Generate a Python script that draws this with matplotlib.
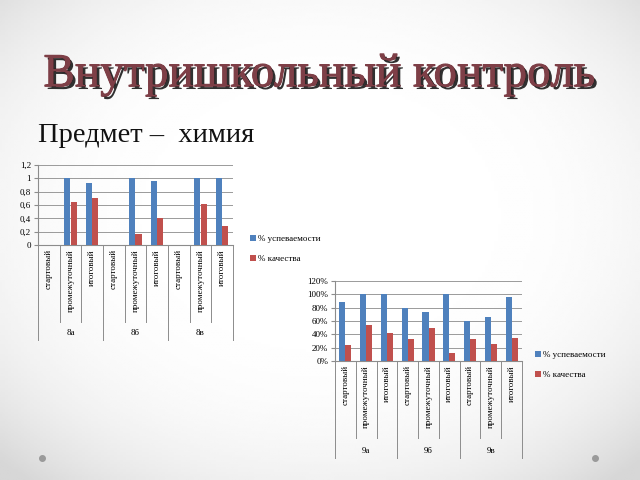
import numpy as np
import matplotlib.pyplot as plt
from matplotlib import patheffects

plt.rcParams['font.family'] = ['Liberation Serif', 'DejaVu Serif']

stages = ['стартовый', 'промежуточный', 'итоговый']

# chart 1: 8th grade (shares 0..1)
groups8 = ['8а', '8б', '8в']
usp8 = [0, 1.0, 0.93, 0, 1.0, 0.96, 0, 1.0, 1.0]
kach8 = [0, 0.65, 0.71, 0, 0.16, 0.40, 0, 0.62, 0.28]

# chart 2: 9th grade (percent)
groups9 = ['9а', '9б', '9в']
usp9 = [89, 100, 100, 80, 73, 100, 60, 66, 96]
kach9 = [24, 54, 42, 33, 50, 12, 33, 25, 34]

legend_labels = ['% успеваемости', '% качества']
title = 'Внутришкольный контроль'
subtitle = 'Предмет –  химия'

BLUE = '#4F81BD'
RED = '#C0504D'
W, H = 640, 480

fig = plt.figure(figsize=(6.4, 4.8), dpi=100)

# slide background with soft grey vignette
bg = fig.add_axes([0, 0, 1, 1])
yy, xx = np.mgrid[0:1:200j, 0:1:200j]
r = np.sqrt(((xx - 0.5) / 0.72) ** 2 + ((yy - 0.45) / 0.72) ** 2)
bg.imshow(1 - 0.16 * np.clip(r, 0, 1) ** 4, cmap='gray', vmin=0, vmax=1,
          extent=[0, 1, 0, 1], aspect='auto')
bg.set_xlim(0, 1)
bg.set_ylim(0, 1)
bg.axis('off')

# title with shadow
bg.text(0.5, 1 - 75 / H, title, ha='center', va='center', fontsize=34,
        color='#7E3F47',
        path_effects=[patheffects.withStroke(linewidth=0.8, foreground='#7E3F47'),
                      patheffects.withSimplePatchShadow(offset=(2, -2), shadow_rgbFace='#1a1a1a', alpha=0.9),
                      patheffects.Normal()])
bg.text(38 / W, 1 - 135 / H, subtitle, ha='left', va='center', fontsize=20.5, color='#111111')

# bottom dots
bg.plot([42 / W, 595 / W], [1 - 458 / H, 1 - 458 / H], 'o', color='#9a9a9a', ms=4)


def draw_chart(rect, usp, kach, groups, ylim, yticks, yfmt, inner_y, outer_y, grp_y, leg_xy):
    ax = fig.add_axes(rect)
    ax.patch.set_alpha(0)
    x = np.arange(len(usp))
    bw = 0.29
    b1 = ax.bar(x - bw / 2, usp, bw, color=BLUE, zorder=3)
    b2 = ax.bar(x + bw / 2, kach, bw, color=RED, zorder=3)
    ax.set_xlim(-0.5, len(usp) - 0.5)
    ax.set_ylim(*ylim)
    ax.set_yticks(yticks)
    ax.set_yticklabels([yfmt(v) for v in yticks], fontsize=6.5)
    ax.yaxis.grid(True, color='#9a9a9a', lw=0.7, zorder=0)
    for s in ['top', 'right']:
        ax.spines[s].set_visible(False)
    ax.spines['left'].set_color('#8c8c8c')
    ax.spines['bottom'].set_color('#8c8c8c')
    ax.tick_params(axis='y', length=3, color='#8c8c8c', pad=2)
    ax.set_xticks(x)
    ax.set_xticklabels(stages * len(groups), rotation=90, fontsize=6.5, va='top')
    ax.tick_params(axis='x', length=0, pad=3)
    tr = ax.get_xaxis_transform()
    n = len(stages)
    for i in range(len(usp) + 1):
        edge = i - 0.5
        low = outer_y if i % n == 0 else inner_y
        ax.plot([edge, edge], [0, low], color='#8c8c8c', lw=0.7, transform=tr, clip_on=False)
    for g, name in enumerate(groups):
        ax.text(g * n + (n - 1) / 2, grp_y, name, transform=tr, ha='center', va='center', fontsize=6.5)
    fig.legend([b1, b2], legend_labels, loc='center left', bbox_to_anchor=leg_xy,
               frameon=False, fontsize=6.5, handlelength=0.6, handleheight=0.6,
               handletextpad=0.3, labelspacing=1.3)
    return ax


draw_chart([38 / W, 1 - 245 / H, 195 / W, 80 / H], usp8, kach8, groups8,
           (0, 1.2), [0, 0.2, 0.4, 0.6, 0.8, 1.0, 1.2],
           lambda v: ('%g' % v).replace('.', ','),
           -0.96, -1.19, -1.1, (242 / W, 1 - 249 / H))

draw_chart([335 / W, 1 - 361 / H, 187 / W, 80 / H], usp9, kach9, groups9,
           (0, 120), [0, 20, 40, 60, 80, 100, 120],
           lambda v: '%d%%' % v,
           -0.96, -1.21, -1.12, (527 / W, 1 - 365 / H))

fig.savefig('out.png', dpi=100)
